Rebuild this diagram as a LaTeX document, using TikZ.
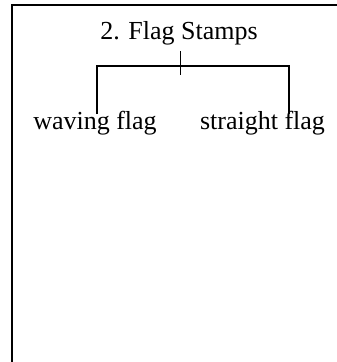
\documentclass[tikz,border=0pt]{standalone}
\usepackage{fontspec}
\setmainfont{Liberation Serif}
\tikzset{
  lbl/.style={inner sep=0pt, anchor=base, font=\fontsize{26}{30}\selectfont},
  frameline/.style={line width=2pt, black},
  bracketline/.style={line width=2pt, black},
  tickline/.style={line width=1pt, black}
}
\begin{document}
\begin{tikzpicture}[x=1pt,y=-1pt]
\useasboundingbox (0,0) rectangle (337,362);
\draw[frameline] (11.5,363) -- (11.5,4.5) -- (338,4.5);
\node[lbl] (title) at (179,39.5) {2. Flag Stamps};
\node[lbl] (wave) at (95,129.5) {waving flag};
\node[lbl] (straight) at (262.5,129.5) {straight flag};
\coordinate (tt) at (180,51);
\coordinate (tb) at (180,75);
\coordinate (bl) at (97,65.5);
\coordinate (br) at (289,65.5);
\coordinate (wl) at (97,114);
\coordinate (sr) at (289,114);
\draw[bracketline] (wl) -- (bl) -- (br) -- (sr);
\draw[tickline] (tt) -- (tb);
\end{tikzpicture}
\end{document}
